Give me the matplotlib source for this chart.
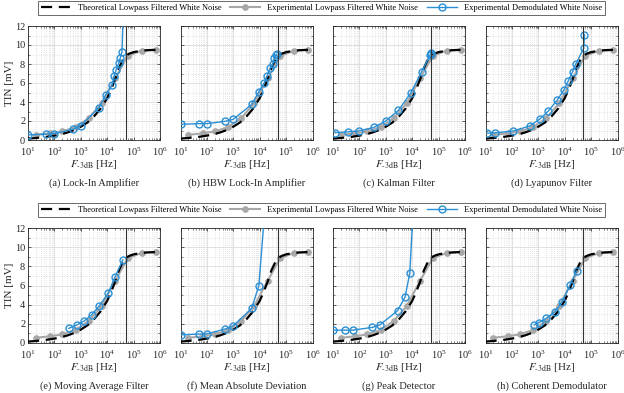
import matplotlib
matplotlib.use("Agg")
import matplotlib.pyplot as plt
from matplotlib.lines import Line2D
from matplotlib.ticker import LogLocator, MultipleLocator, NullFormatter

plt.rcParams["font.family"] = ["Liberation Serif", "DejaVu Serif"]
plt.rcParams["mathtext.fontset"] = "stix"

# theoretical lowpass filtered white noise (dashed black)
theory_f = [10, 18, 32, 56, 100, 180, 320, 560, 1000, 1800, 3200, 5600, 10000,
            14000, 20000, 28000, 40000, 52000, 70000, 100000, 180000, 320000,
            560000, 1000000]
theory_tin = [0.15, 0.2, 0.27, 0.35, 0.46, 0.6, 0.8, 1.05, 1.4, 1.85, 2.5, 3.3,
              4.4, 5.3, 6.4, 7.6, 8.5, 8.88, 9.1, 9.25, 9.38, 9.45, 9.48, 9.5]

# experimental lowpass filtered white noise (grey dots)
lp_f = [20, 70, 200, 630, 2000, 6300, 20000, 60000, 200000, 700000]
lp_tin = [0.55, 0.7, 0.9, 1.35, 2.3, 3.9, 6.5, 8.85, 9.4, 9.5]

# experimental demodulated white noise, one series per demodulator
demod_titles = ["(a) Lock-In Amplifier", "(b) HBW Lock-In Amplifier",
                "(c) Kalman Filter", "(d) Lyapunov Filter",
                "(e) Moving Average Filter", "(f) Mean Absolute Deviation",
                "(g) Peak Detector", "(h) Coherent Demodulator"]
demod_f = [
    [10, 50, 100, 500, 1000, 4900, 8700, 15500, 18200, 21900, 27500, 30900, 36300, 42700],
    [10, 50, 100, 500, 1000, 5000, 9300, 14800, 19000, 25000, 31600, 35500, 39800, 44700],
    [12, 37, 93, 350, 1000, 3000, 8700, 23000, 48000, 50000, 52000],
    [11, 23, 112, 470, 1120, 2400, 5200, 9500, 13800, 20000, 26300, 52500, 56000],
    [350, 690, 1320, 2570, 5100, 11000, 19500, 39000],
    [10, 50, 100, 480, 1000, 5000, 9300, 20000],
    [10, 28, 56, 310, 600, 2800, 5400, 8100, 12600],
    [700, 1020, 1950, 4300, 8100, 15800, 28000],
]
demod_tin = [
    [0.53, 0.62, 0.67, 1.13, 1.52, 3.4, 4.74, 5.8, 6.7, 7.4, 8.1, 8.6, 9.3, 15.6],
    [1.65, 1.72, 1.72, 1.97, 2.18, 3.75, 5.1, 6.0, 6.7, 7.6, 8.0, 8.65, 8.9, 9.05],
    [0.77, 0.86, 0.95, 1.32, 2.0, 3.12, 4.92, 7.2, 8.95, 9.1, 9.2],
    [0.72, 0.75, 0.95, 1.47, 2.18, 3.05, 4.2, 5.3, 6.25, 7.2, 8.0, 9.65, 11.1],
    [1.53, 1.86, 2.28, 2.94, 3.9, 5.22, 6.85, 8.68],
    [0.85, 0.93, 0.95, 1.45, 1.8, 3.62, 6.0, 17.6],
    [1.34, 1.34, 1.34, 1.63, 1.89, 3.38, 4.82, 7.3, 17.2],
    [1.89, 2.1, 2.56, 3.25, 4.33, 6.02, 7.5],
]
cutoff_f = 50000

BLUE = "#2b8fd4"
GREY = "#a8a8a8"
AXC = "#262626"

W, H = 624, 393
fig = plt.figure(figsize=(W / 100, H / 100), dpi=100)

lefts = [28, 180.5, 333, 485.5]
rows = [(26, 140), (228, 343)]
pw = 132

for i, (title, f, tin) in enumerate(zip(demod_titles, demod_f, demod_tin)):
    r, c = divmod(i, 4)
    top, bot = rows[r]
    ax = fig.add_axes([lefts[c] / W, 1 - bot / H, pw / W, (bot - top) / H])
    ax.plot(theory_f, theory_tin, color="black", lw=1.6, ls=(0, (5, 3)), zorder=3)
    ax.plot(lp_f, lp_tin, color=GREY, lw=1.5, marker="o", ms=3.8,
            mfc=GREY, mec=GREY, zorder=2)
    ax.plot(f, tin, color=BLUE, lw=1.0, marker="o", ms=5, mfc="none",
            mec=BLUE, mew=1.0, zorder=4)
    ax.axvline(cutoff_f, color="#333333", lw=0.8, zorder=5)

    ax.set_xscale("log")
    ax.set_xlim(10, 1e6)
    ax.set_ylim(0, 12)
    ax.xaxis.set_major_locator(LogLocator(base=10, numticks=10))
    ax.xaxis.set_minor_locator(LogLocator(base=10, subs=range(2, 10), numticks=20))
    ax.xaxis.set_minor_formatter(NullFormatter())
    ax.yaxis.set_major_locator(MultipleLocator(2))
    ax.yaxis.set_minor_locator(MultipleLocator(1))
    ax.grid(True, which="major", color="#dcdcdc", lw=0.6)
    ax.grid(True, which="minor", color="#cccccc", lw=0.5, ls=(0, (1, 2)))
    ax.set_axisbelow(True)
    ax.tick_params(which="both", direction="in", top=True, right=True,
                   colors=AXC, labelsize=7.5)
    ax.tick_params(axis="x", pad=4)
    ax.tick_params(axis="y", pad=2)
    ax.tick_params(which="major", length=2.5, width=0.5)
    ax.tick_params(which="minor", length=1.5, width=0.4)
    for s in ax.spines.values():
        s.set_color(AXC)
        s.set_linewidth(0.6)
    if c == 0:
        ax.set_ylabel("TIN [mV]", fontsize=8, color=AXC, labelpad=1)
    else:
        ax.set_yticklabels([])
    ax.set_xlabel(r"$F_{\text{-3dB}}$ [Hz]", fontsize=8, color=AXC, labelpad=0)
    cap_y = 183 if r == 0 else 386
    fig.text((lefts[c] + pw / 2) / W, 1 - cap_y / H, title, ha="center",
             va="center", fontsize=7.5, color=AXC)

handles = [
    Line2D([], [], color="black", lw=1.6, ls=(0, (5, 3))),
    Line2D([], [], color=GREY, lw=1.5, marker="o", ms=3.8, mfc=GREY, mec=GREY),
    Line2D([], [], color=BLUE, lw=1.0, marker="o", ms=5, mfc="none", mec=BLUE),
]
labels = ["Theoretical Lowpass Filtered White Noise",
          "Experimental Lowpass Filtered White Noise",
          "Experimental Demodulated White Noise"]
for yc in (8, 210):
    leg = fig.legend(handles, labels, ncol=3, loc="center", mode="expand",
                     bbox_to_anchor=(38 / W, 1 - (yc + 7.5) / H, 567 / W, 15 / H),
                     fontsize=6, frameon=True, fancybox=False, handlelength=3.6,
                     borderpad=0.35, handletextpad=0.8, borderaxespad=0)
    leg.get_frame().set_edgecolor(AXC)
    leg.get_frame().set_linewidth(0.6)

fig.savefig("out.png", dpi=100)
